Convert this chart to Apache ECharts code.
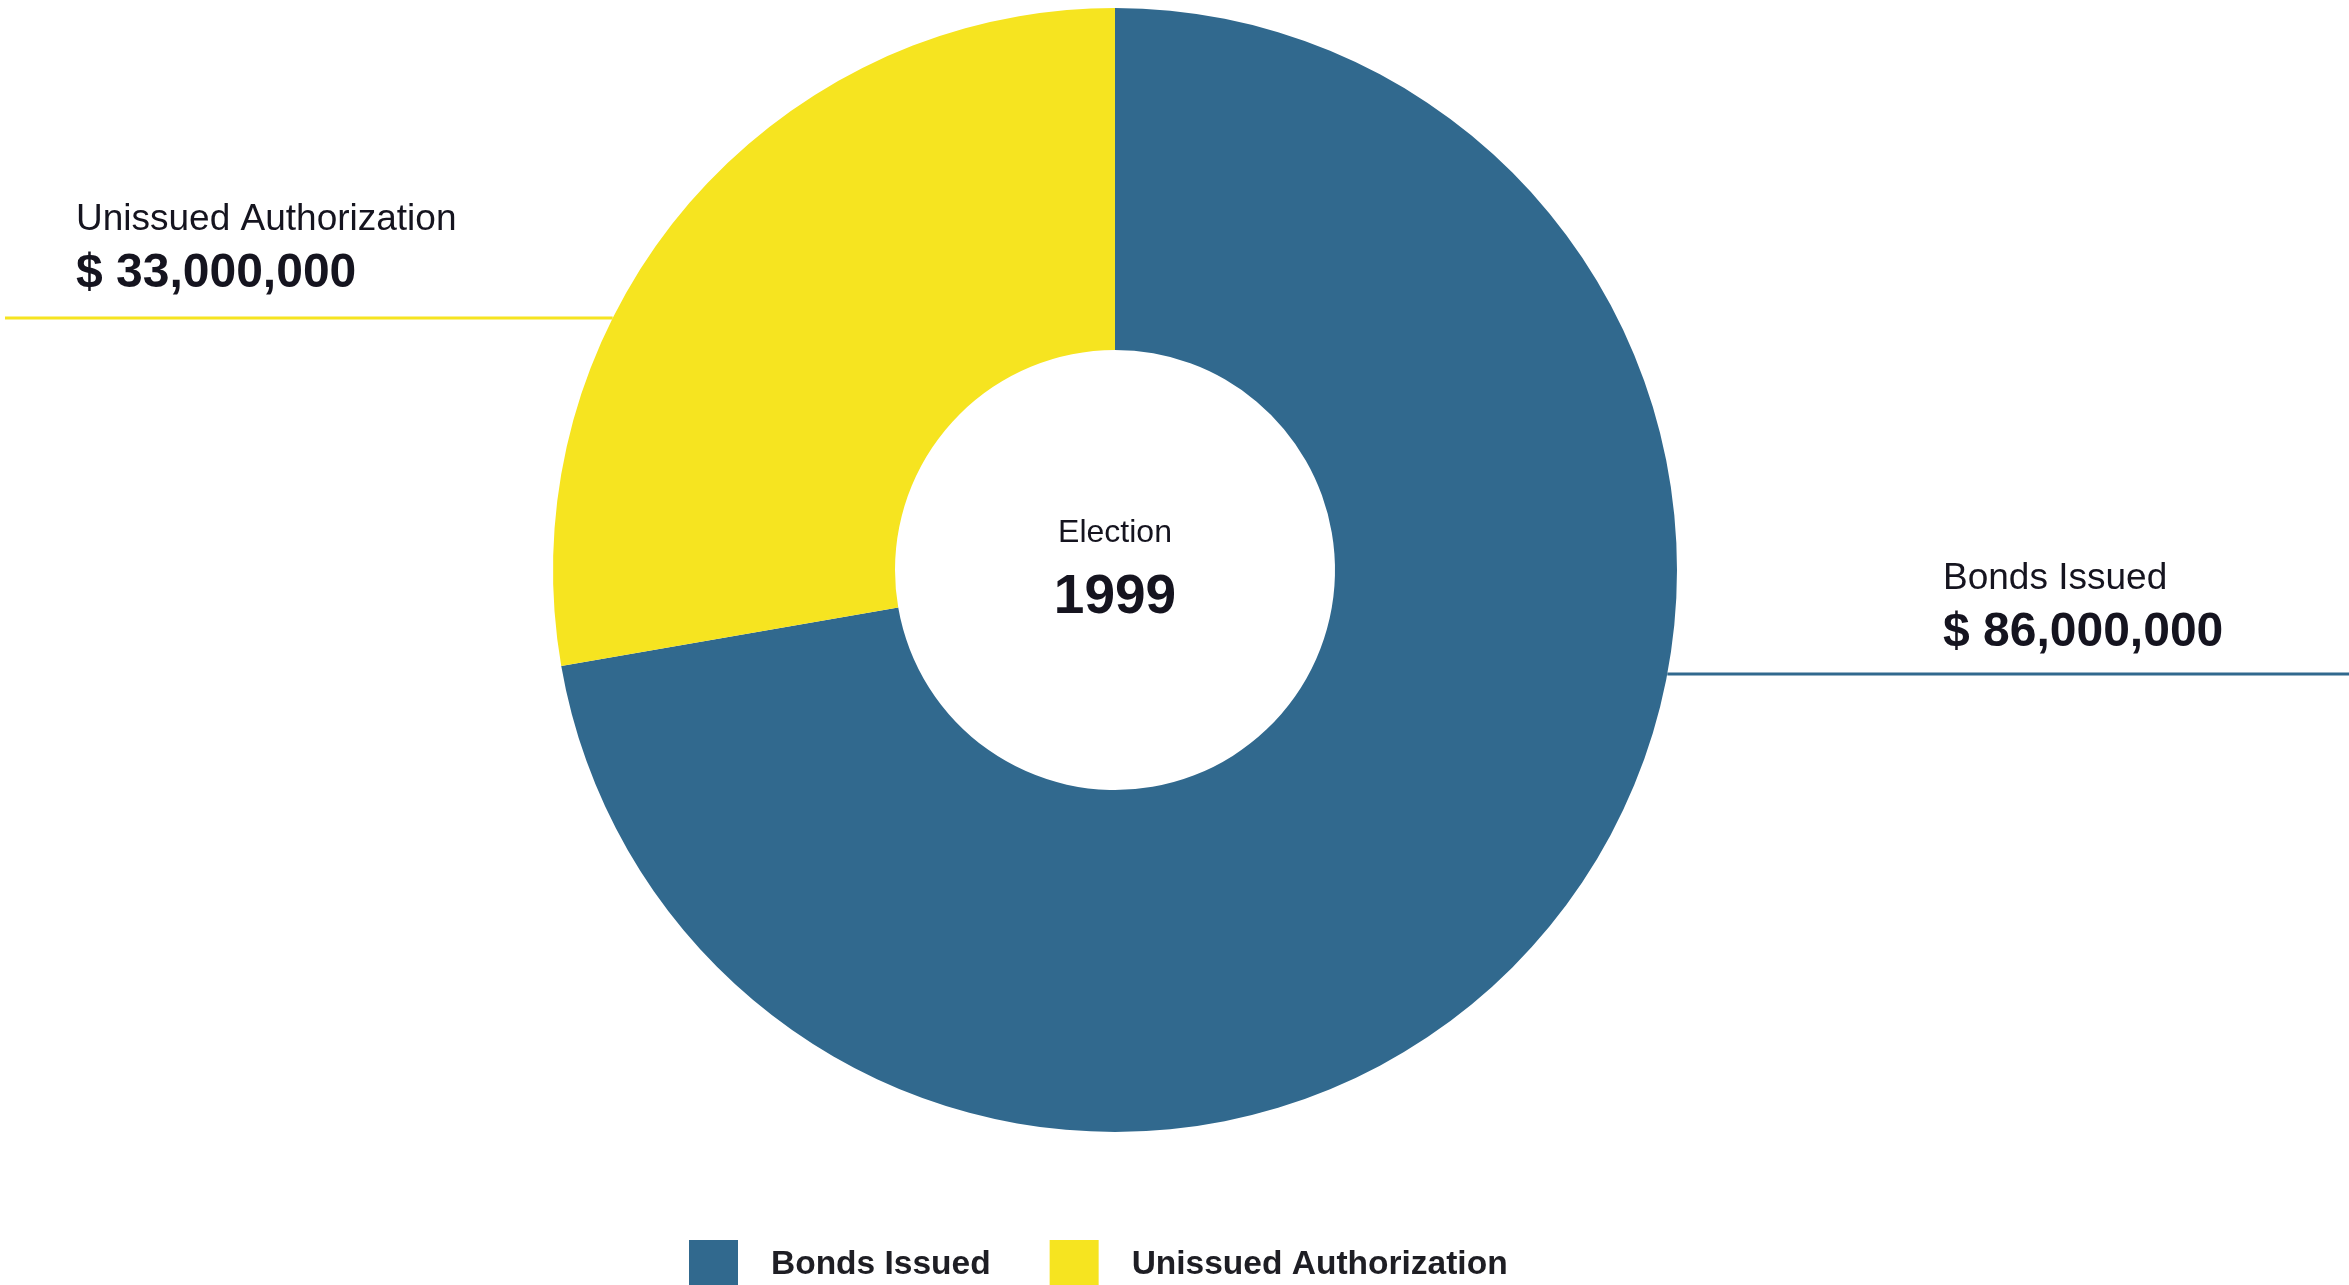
<!DOCTYPE html>
<html>
<head>
<meta charset="utf-8">
<script src="https://cdn.jsdelivr.net/npm/echarts@6/dist/echarts.min.js"></script>
<style>html,body{margin:0;padding:0;background:#fff;}#c{width:2349px;height:1285px;}</style>
</head>
<body>
<div id="c"></div>
<script>
const categories = ['Bonds Issued', 'Unissued Authorization'];
const values = [86000000, 33000000];
const colors = ['#31698E', '#F6E420'];
const centerTitle = 'Election';
const centerYear = '1999';

const SANS = '"Liberation Sans", Arial, sans-serif';
const TXT = '#15141f';

const CX = 1115, CY = 570, R_IN = 220, R_OUT = 562;
// label line vertical offset from centre for each slice
const lineDy = [104, -252];

function fmt(v) { return '$ ' + v.toLocaleString('en-US'); }

const chart = echarts.init(document.getElementById('c'), null, {renderer: 'canvas'});
chart.setOption({
  animation: false,
  backgroundColor: '#ffffff',
  color: colors,
  legend: {
    data: categories,
    left: 684,
    top: 1235,
    itemWidth: 49,
    itemHeight: 49,
    itemGap: 59,
    icon: 'rect',
    textStyle: {fontFamily: SANS, fontWeight: 'bold', fontSize: 33.5, color: '#1e1e24', padding: [0, 0, 0, 28]}
  },
  graphic: [
    {type: 'text', x: CX, y: 533, style: {text: centerTitle, font: '32px ' + SANS, fill: TXT, textAlign: 'center', textVerticalAlign: 'middle'}},
    {type: 'text', x: CX, y: 598, style: {text: centerYear, font: 'bold 55px ' + SANS, fill: TXT, textAlign: 'center', textVerticalAlign: 'middle'}}
  ],
  series: [{
    type: 'pie',
    center: [CX, CY],
    radius: [R_IN, R_OUT],
    startAngle: 90,
    clockwise: true,
    avoidLabelOverlap: false,
    data: categories.map((n, i) => ({name: n, value: values[i]})),
    label: {
      show: true,
      position: 'outside',
      formatter: p => '{a|' + p.name + '}\n{b|' + fmt(p.value) + '}',
      rich: {
        a: {fontFamily: SANS, fontSize: 37, lineHeight: 54, color: TXT},
        b: {fontFamily: SANS, fontSize: 48, fontWeight: 'bold', lineHeight: 54, color: TXT}
      }
    },
    labelLine: {show: true, lineStyle: {width: 3}},
    labelLayout: function (params) {
      const i = params.dataIndex;
      const W = chart.getWidth();
      const dy = lineDy[i];
      const y = CY + dy;
      const dx = Math.sqrt(R_OUT * R_OUT - dy * dy);
      if (i === 0) {
        const x0 = CX + dx;
        return {x: 1943, y: y - 14, align: 'left', verticalAlign: 'bottom',
          labelLinePoints: [[x0, y], [(x0 + W) / 2, y], [W, y]]};
      } else {
        const x0 = CX - dx;
        return {x: 76, y: y - 17, align: 'left', verticalAlign: 'bottom',
          labelLinePoints: [[x0, y], [x0 / 2, y], [5, y]]};
      }
    }
  }]
});
</script>
</body>
</html>
